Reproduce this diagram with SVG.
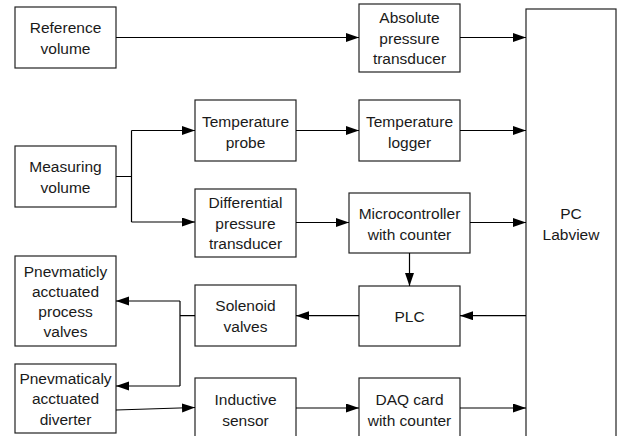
<svg xmlns="http://www.w3.org/2000/svg" width="620" height="436" viewBox="0 0 620 436">
<style>
.box{fill:#fff;stroke:#222;stroke-width:1.2}
.lbl{font-family:"Liberation Sans",Arial,sans-serif;font-size:15.5px;fill:#1a1a1a;text-anchor:middle}
.ln{fill:none;stroke:#000;stroke-width:1.2}
</style>
<defs>
<marker id="ah" markerUnits="userSpaceOnUse" markerWidth="14" markerHeight="10" refX="13" refY="4.5" orient="auto">
<path d="M0,0 L13,4.5 L0,9 z" fill="#000"/>
</marker>
</defs>
<rect x="0" y="0" width="620" height="436" fill="#fff"/>
<g id="ref"><rect class="box" x="15" y="7" width="101" height="61"/><text class="lbl" x="65.5" y="33">Reference</text><text class="lbl" x="65.5" y="54">volume</text></g>
<g id="abs"><rect class="box" x="359" y="4" width="101" height="68"/><text class="lbl" x="409.5" y="23">Absolute</text><text class="lbl" x="409.5" y="43.5">pressure</text><text class="lbl" x="409.5" y="64">transducer</text></g>
<g id="tprobe"><rect class="box" x="195" y="100" width="101" height="61"/><text class="lbl" x="245.5" y="127">Temperature</text><text class="lbl" x="245.5" y="147.5">probe</text></g>
<g id="tlogger"><rect class="box" x="359" y="100" width="101" height="61"/><text class="lbl" x="409.5" y="127">Temperature</text><text class="lbl" x="409.5" y="147.5">logger</text></g>
<g id="meas"><rect class="box" x="15" y="146" width="101" height="61"/><text class="lbl" x="65.5" y="172">Measuring</text><text class="lbl" x="65.5" y="193">volume</text></g>
<g id="diff"><rect class="box" x="195" y="189" width="101" height="68"/><text class="lbl" x="245.5" y="208">Differential</text><text class="lbl" x="245.5" y="228.5">pressure</text><text class="lbl" x="245.5" y="249">transducer</text></g>
<g id="micro"><rect class="box" x="349" y="193" width="121" height="60"/><text class="lbl" x="409.5" y="219">Microcontroller</text><text class="lbl" x="409.5" y="240">with counter</text></g>
<g id="pc"><rect class="box" x="526" y="9" width="90" height="440"/><text class="lbl" x="571" y="219">PC</text><text class="lbl" x="571" y="240">Labview</text></g>
<g id="plc"><rect class="box" x="359" y="286" width="101" height="60"/><text class="lbl" x="409.5" y="321.5">PLC</text></g>
<g id="sol"><rect class="box" x="195" y="285" width="101" height="61"/><text class="lbl" x="245.5" y="311">Solenoid</text><text class="lbl" x="245.5" y="332">valves</text></g>
<g id="pvalves"><rect class="box" x="15" y="256" width="101" height="90"/><text class="lbl" x="65.5" y="276.5">Pnevmaticly</text><text class="lbl" x="65.5" y="296.5">acctuated</text><text class="lbl" x="65.5" y="316.5">process</text><text class="lbl" x="65.5" y="336.5">valves</text></g>
<g id="diverter"><rect class="box" x="15" y="364" width="101" height="69"/><text class="lbl" x="65.5" y="383.5">Pnevmaticaly</text><text class="lbl" x="65.5" y="404">acctuated</text><text class="lbl" x="65.5" y="425">diverter</text></g>
<g id="inductive"><rect class="box" x="195" y="378" width="101" height="62"/><text class="lbl" x="245.5" y="405">Inductive</text><text class="lbl" x="245.5" y="425.5">sensor</text></g>
<g id="daq"><rect class="box" x="359" y="378" width="101" height="62"/><text class="lbl" x="409.5" y="405">DAQ card</text><text class="lbl" x="409.5" y="425.5">with counter</text></g>
<g id="connectors">
<path class="ln" d="M116,37.5 H359" marker-end="url(#ah)"/>
<path class="ln" d="M460,37.5 H526" marker-end="url(#ah)"/>
<path class="ln" d="M296,130.5 H359" marker-end="url(#ah)"/>
<path class="ln" d="M460,130.5 H526" marker-end="url(#ah)"/>
<path class="ln" d="M116,176.5 H131.5 M131.5,130.5 V222"/>
<path class="ln" d="M131.5,130.5 H195" marker-end="url(#ah)"/>
<path class="ln" d="M131.5,222 H195" marker-end="url(#ah)"/>
<path class="ln" d="M296,222.5 H349" marker-end="url(#ah)"/>
<path class="ln" d="M470,222.5 H526" marker-end="url(#ah)"/>
<path class="ln" d="M409.5,253 V286" marker-end="url(#ah)"/>
<path class="ln" d="M526,315.7 H460" marker-end="url(#ah)"/>
<path class="ln" d="M359,315.7 H296" marker-end="url(#ah)"/>
<path class="ln" d="M195,315.7 H180 M180,301 V386"/>
<path class="ln" d="M180,301 H116" marker-end="url(#ah)"/>
<path class="ln" d="M180,386 H116" marker-end="url(#ah)"/>
<path class="ln" d="M116,410 L195,407.5" marker-end="url(#ah)"/>
<path class="ln" d="M296,408 H359" marker-end="url(#ah)"/>
<path class="ln" d="M460,408 H526" marker-end="url(#ah)"/>
</g>
</svg>
